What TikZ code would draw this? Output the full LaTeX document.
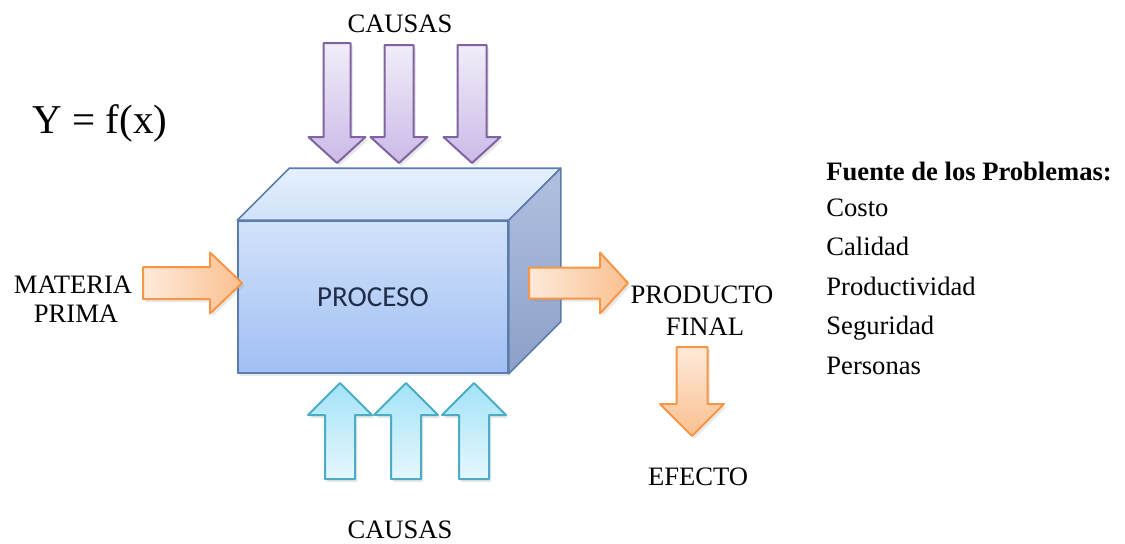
\documentclass[tikz,border=0pt]{standalone}
\usepackage{fontspec}
\setmainfont{Liberation Serif}
\newfontfamily\boxfont{Carlito}
\usetikzlibrary{calc,shadows}

% colours of the block arrows and of the process box
\definecolor{purpleline}{HTML}{8064A2}
\definecolor{purpletop}{HTML}{F1EDF8}
\definecolor{purplebot}{HTML}{CBBAE8}
\definecolor{cyanline}{HTML}{4BACC6}
\definecolor{cyantop}{HTML}{A3E3F7}
\definecolor{cyanbot}{HTML}{E6F7FD}
\definecolor{orangeline}{HTML}{F79646}
\definecolor{orangelight}{HTML}{FDEADA}
\definecolor{orangedark}{HTML}{FAC08F}
\definecolor{boxline}{HTML}{5B7DAB}
\definecolor{fronttop}{HTML}{D2E2FA}
\definecolor{frontbot}{HTML}{A0BFF3}
\definecolor{toplight}{HTML}{E6F0FD}
\definecolor{topdark}{HTML}{D0E1F9}
\definecolor{sidelight}{HTML}{B0C0E0}
\definecolor{sidedark}{HTML}{8CA0C8}
\definecolor{proctext}{HTML}{1F2D4A}

% vertical block arrow: style, centre x, tail y, head base y, tip y, shaft half width, head half width
\newcommand{\VBlockArrow}[7]{%
  \path[#1] ({#2-#6},#3) -- ({#2+#6},#3) -- ({#2+#6},#4) -- ({#2+#7},#4)
    -- (#2,#5) -- ({#2-#7},#4) -- ({#2-#6},#4) -- cycle;}
% horizontal block arrow: style, centre y, tail x, head base x, tip x, shaft half width, head half width
\newcommand{\HBlockArrow}[7]{%
  \path[#1] (#3,{#2-#6}) -- (#4,{#2-#6}) -- (#4,{#2-#7}) -- (#5,#2)
    -- (#4,{#2+#7}) -- (#4,{#2+#6}) -- (#3,{#2+#6}) -- cycle;}

\tikzset{
  softshadow/.style={drop shadow={opacity=0.18, shadow xshift=1.2pt, shadow yshift=-1.5pt}},
  causein/.style={softshadow, draw=purpleline, line width=1pt, line join=round,
    top color=purpletop, bottom color=purplebot},
  causeup/.style={softshadow, draw=cyanline, line width=1pt, line join=round,
    top color=cyantop, bottom color=cyanbot},
  flowright/.style={softshadow, draw=orangeline, line width=1pt, line join=round,
    left color=orangelight, right color=orangedark},
  flowdown/.style={softshadow, draw=orangeline, line width=1pt, line join=round,
    top color=orangelight, bottom color=orangedark},
  label/.style={font=\fontsize{13.3}{15}\selectfont, inner sep=0pt, anchor=base},
  listline/.style={font=\fontsize{13.3}{15}\selectfont, inner sep=0pt, anchor=base west},
  facebox/.style={draw=boxline, line width=0.8pt, line join=round},
}

\begin{document}
\begin{tikzpicture}[x=0.5pt, y=-0.5pt]
\useasboundingbox (0,0) rectangle (1125,543);

% the process box: front face as a node, top and side faces attached to it
\node[facebox, softshadow, top color=fronttop, bottom color=frontbot,
      minimum width=135pt, minimum height=76pt, inner sep=0pt,
      font=\boxfont\fontsize{14.5}{16}\selectfont, text=proctext] (proc) at (373,297) {PROCESO};
\path[facebox, top color=toplight, bottom color=topdark]
  (proc.north west) -- ($(proc.north west)+(52,-52)$) -- ($(proc.north east)+(52,-52)$)
  -- (proc.north east) -- cycle;
\path[facebox, top color=sidelight, bottom color=sidedark]
  (proc.north east) -- ($(proc.north east)+(52,-52)$) -- ($(proc.south east)+(52,-52)$)
  -- (proc.south east) -- cycle;
\node[facebox, minimum width=135pt, minimum height=76pt, inner sep=0pt] at (proc.center) {};

% causes entering from above
\VBlockArrow{causein}{337}{43}{137}{163}{13.5}{28.5}
\VBlockArrow{causein}{399}{45}{137}{163}{14.5}{28.5}
\VBlockArrow{causein}{472}{45}{137}{163}{14.5}{28.5}

% causes entering from below
\VBlockArrow{causeup}{340}{479}{415}{383}{15}{32}
\VBlockArrow{causeup}{406}{479}{415}{383}{15}{32}
\VBlockArrow{causeup}{474}{479}{415}{383}{15}{32}

% input, output and effect
\HBlockArrow{flowright}{283}{143}{210}{242}{16}{30.5}
\HBlockArrow{flowright}{283}{529}{600}{628}{15.5}{30.5}
\VBlockArrow{flowdown}{692}{347}{404}{436}{15.5}{32}

% labels
\node[label] (causastop) at (400,32) {CAUSAS};
\node[label] (causasbot) at (400,538) {CAUSAS};
\node[label] (materia) at (73,293) {MATERIA};
\node[label] (prima) at (76,322) {PRIMA};
\node[label] (producto) at (702,303) {PRODUCTO};
\node[label] (final) at (705,335) {FINAL};
\node[label] (efecto) at (698,485) {EFECTO};
\node[inner sep=0pt, anchor=base, font=\fontsize{20.5}{22}\selectfont] (formula) at (100,133) {Y = f(x)};

% list of problem sources
\node[listline, font=\bfseries\fontsize{13.3}{15}\selectfont] (fuente) at (826,180) {Fuente de los Problemas:};
\node[listline] (costo) at (826,216) {Costo};
\node[listline] (calidad) at (826,255.5) {Calidad};
\node[listline] (productividad) at (826,295) {Productividad};
\node[listline] (seguridad) at (826,334.5) {Seguridad};
\node[listline] (personas) at (826,374) {Personas};
\end{tikzpicture}
\end{document}
